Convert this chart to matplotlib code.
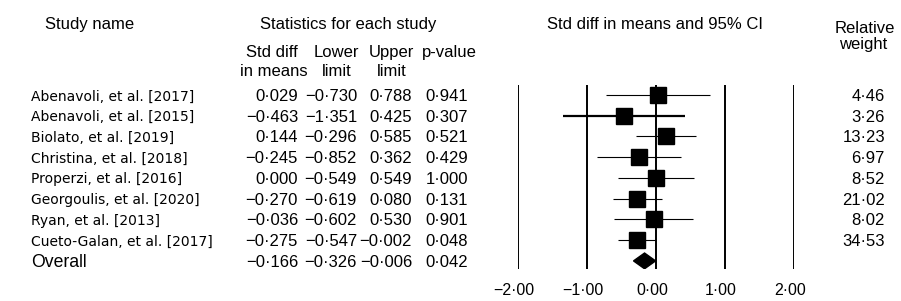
import matplotlib
matplotlib.use("Agg")
import matplotlib.pyplot as plt
import matplotlib.transforms as mtransforms
from matplotlib.patches import Polygon

studies = ["Abenavoli, et al. [2017]", "Abenavoli, et al. [2015]", "Biolato, et al. [2019]",
           "Christina, et al. [2018]", "Properzi, et al. [2016]", "Georgoulis, et al. [2020]",
           "Ryan, et al. [2013]", "Cueto-Galan, et al. [2017]"]
std_diff = [0.029, -0.463, 0.144, -0.245, 0.000, -0.270, -0.036, -0.275]
lower = [-0.730, -1.351, -0.296, -0.852, -0.549, -0.619, -0.602, -0.547]
upper = [0.788, 0.425, 0.585, 0.362, 0.549, 0.080, 0.530, -0.002]
p_value = [0.941, 0.307, 0.521, 0.429, 1.000, 0.131, 0.901, 0.048]
rel_weight = [4.46, 3.26, 13.23, 6.97, 8.52, 21.02, 8.02, 34.53]

overall_label = "Overall"
overall_diff = -0.166
overall_lower = -0.326
overall_upper = -0.006
overall_p = 0.042

x_ticks = [-2, -1, 0, 1, 2]
ci_widths = [0.8, 1.6, 0.8, 0.8, 0.8, 0.8, 0.8, 0.8]

W, H = 901, 301
SANS = "Liberation Sans"


def fmt(v, d=3):
    return f"{v:.{d}f}".replace(".", "\u00b7").replace("-", "\u2212")


def px(x, y):
    return x / W, 1 - y / H


fig = plt.figure(figsize=(W / 100, H / 100), dpi=100)
ax = fig.add_axes([518 / W, 1 - 269 / H, 276 / W, 184 / H])

rows = list(range(len(studies)))
overall_row = len(studies)

for t in x_ticks:
    ax.axvline(t, color="black", lw=1.4, zorder=1)

ax.hlines(rows, lower, upper, colors="black", linewidths=ci_widths, zorder=2)
ax.plot(std_diff, rows, "s", color="black", ms=11, zorder=3)

h = 0.38
diamond = Polygon([(overall_lower, overall_row), (overall_diff, overall_row - h),
                   (overall_upper, overall_row), (overall_diff, overall_row + h)],
                  closed=True, facecolor="black", edgecolor="black", zorder=3)
ax.add_patch(diamond)

ax.set_xlim(-2, 2)
ax.set_ylim(8.39, -0.48)
ax.set_xticks(x_ticks)
ax.set_xticklabels([fmt(t, 2) for t in x_ticks], fontfamily=SANS, fontsize=11.5)
ax.tick_params(axis="x", length=0, pad=10)
shift = mtransforms.ScaledTranslation(-4 / 100, 0, fig.dpi_scale_trans)
for lab in ax.get_xticklabels():
    lab.set_transform(lab.get_transform() + shift)
ax.set_yticks([])
for s in ax.spines.values():
    s.set_visible(False)
ax.patch.set_visible(False)

# row text, tied to the forest axes rows
tr = mtransforms.blended_transform_factory(fig.transFigure, ax.transData)
for i in rows:
    fig.text(31 / W, i, studies[i], transform=tr, ha="left", va="center_baseline",
             fontsize=10, fontfamily="DejaVu Sans")
    for xr, val in [(298, std_diff[i]), (357, lower[i]), (412, upper[i]), (468, p_value[i])]:
        fig.text(xr / W, i, fmt(val), transform=tr, ha="right", va="center_baseline",
                 fontsize=12, fontfamily=SANS)
    fig.text(885 / W, i, fmt(rel_weight[i], 2), transform=tr, ha="right",
             va="center_baseline", fontsize=12, fontfamily=SANS)

fig.text(31 / W, overall_row, overall_label, transform=tr, ha="left", va="center_baseline",
         fontsize=12.7, fontfamily=SANS)
for xr, val in [(298, overall_diff), (357, overall_lower), (412, overall_upper), (468, overall_p)]:
    fig.text(xr / W, overall_row, fmt(val), transform=tr, ha="right", va="center_baseline",
             fontsize=12, fontfamily=SANS)

# headers
hdr = dict(fontsize=12, fontfamily=SANS, va="baseline")
fig.text(*px(90, 29), "Study name", ha="center", **hdr)
fig.text(*px(348, 29), "Statistics for each study", ha="center", **hdr)
fig.text(*px(655, 29), "Std diff in means and 95% CI", ha="center", **hdr)
fig.text(*px(865, 33), "Relative", ha="center", **hdr)
fig.text(*px(863, 49), "weight", ha="center", **hdr)
fig.text(*px(272, 57), "Std diff", ha="center", **hdr)
fig.text(*px(274, 76), "in means", ha="center", **hdr)
fig.text(*px(336, 57), "Lower", ha="center", **hdr)
fig.text(*px(337, 76), "limit", ha="center", **hdr)
fig.text(*px(391, 57), "Upper", ha="center", **hdr)
fig.text(*px(392, 76), "limit", ha="center", **hdr)
fig.text(*px(449, 57), "p-value", ha="center", **hdr)

fig.savefig("out.png", dpi=100)
